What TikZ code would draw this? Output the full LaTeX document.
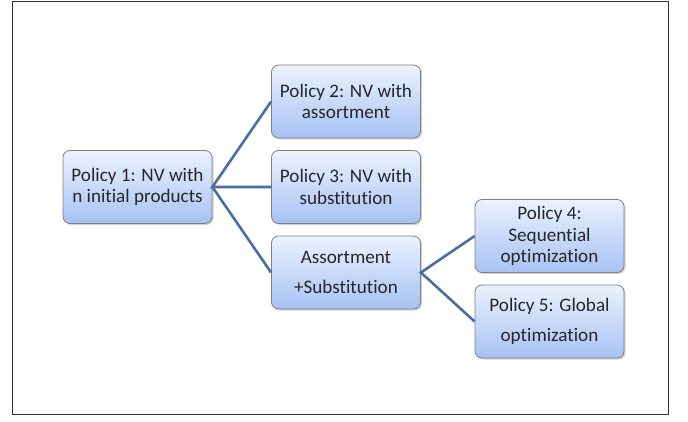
\documentclass[tikz,border=0pt]{standalone}
\usepackage{fontspec}
\setmainfont{Carlito}[Ligatures=NoCommon]
\usetikzlibrary{shadows}
\definecolor{boxtop}{RGB}{236,242,254}
\definecolor{boxbot}{RGB}{166,194,244}
\definecolor{boxline}{RGB}{128,128,128}
\definecolor{conn}{RGB}{74,110,160}
\begin{document}
\begin{tikzpicture}[x=1bp,y=1bp,
  pbox/.style={draw=boxline, line width=0.8bp, rounded corners=7bp,
    top color=boxtop, bottom color=boxbot,
    minimum width=149bp, minimum height=73bp, inner sep=0pt,
    align=center, font=\fontsize{19.2}{21.5}\selectfont, text=black!85,
    drop shadow={opacity=0.35, shadow xshift=1.5bp, shadow yshift=-1.5bp}},
  conn/.style={draw=conn, line width=2.6bp}]
\useasboundingbox (0,0) rectangle (688,421);
\fill[white] (0,0) rectangle (688,421);
\draw[line width=1bp, black!80] (12.5,7) rectangle (668.5,419.5);
\node[pbox] (p1) at (137.5,234) {Policy 1: NV with\\n initial products};
\node[pbox] (p2) at (346,319.5) {Policy 2: NV with\\assortment};
\node[pbox] (p3) at (346,234) {Policy 3: NV with\\substitution};
\node[pbox] (as) at (346,148.5) {Assortment\\[8.5bp]+Substitution};
\node[pbox] (p4) at (549.5,185) {Policy 4:\\Sequential\\optimization};
\node[pbox] (p5) at (549.5,99.5) {Policy 5: Global\\[8.5bp]optimization};
\draw[conn] (p2.west) -- (p1.east) -- (p3.west);
\draw[conn] (p1.east) -- (as.west);
\draw[conn] (p4.west) -- (as.east) -- (p5.west);
\end{tikzpicture}
\end{document}
